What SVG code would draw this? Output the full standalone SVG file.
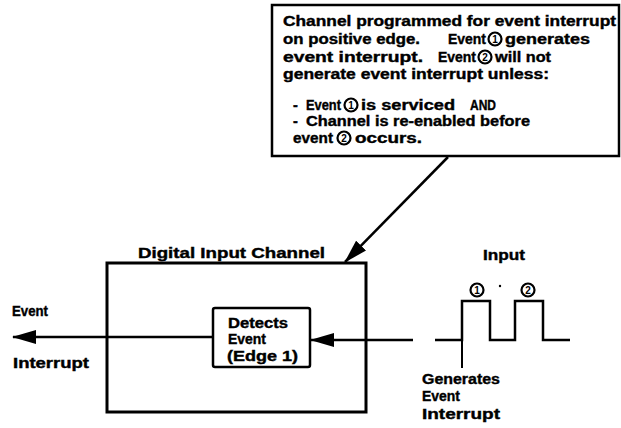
<svg xmlns="http://www.w3.org/2000/svg" width="621" height="428" viewBox="0 0 621 428">
<style>
  .t { font-family: "Liberation Sans", Arial, sans-serif; font-weight: bold; font-size: 14.5px; fill: #000; stroke: #000; stroke-width: 0.4; }
  .n { font-family: "Liberation Sans", Arial, sans-serif; font-weight: bold; font-size: 10px; fill: #000; text-anchor: middle; }
  .box { fill: #fff; stroke: #000; stroke-width: 2.5; }
  .ln { fill: none; stroke: #000; stroke-width: 2.5; }
  .circ { fill: #fff; stroke: #000; stroke-width: 2.2; }
</style>
<defs>
  <marker id="ahBig" viewBox="0 0 24 14" refX="23" refY="7" markerWidth="24" markerHeight="14" orient="auto" markerUnits="userSpaceOnUse">
    <path d="M0,0 L24,7 L0,14 Z" fill="#000"/>
  </marker>
</defs>

<g id="note">
  <rect class="box" x="272" y="5" width="347" height="151"/>
  <text class="t" x="283" y="26" textLength="333" lengthAdjust="spacingAndGlyphs">Channel programmed for event interrupt</text>
  <text class="t" x="283" y="44" textLength="137" lengthAdjust="spacingAndGlyphs">on positive edge.</text>
  <text class="t" x="448" y="44" textLength="38" lengthAdjust="spacingAndGlyphs">Event</text>
  <circle class="circ" cx="495" cy="39" r="6.5"/><text class="n" x="495" y="42.5">1</text>
  <text class="t" x="505" y="44" textLength="85" lengthAdjust="spacingAndGlyphs">generates</text>
  <text class="t" x="283" y="62" textLength="140" lengthAdjust="spacingAndGlyphs">event interrupt.</text>
  <text class="t" x="438" y="62" textLength="38" lengthAdjust="spacingAndGlyphs">Event</text>
  <circle class="circ" cx="485" cy="57" r="6.5"/><text class="n" x="485" y="60.5">2</text>
  <text class="t" x="495" y="62" textLength="56" lengthAdjust="spacingAndGlyphs">will not</text>
  <text class="t" x="283" y="79" textLength="266" lengthAdjust="spacingAndGlyphs">generate event interrupt unless:</text>
  <text class="t" x="293" y="110">-</text>
  <text class="t" x="306" y="110" textLength="35" lengthAdjust="spacingAndGlyphs">Event</text>
  <circle class="circ" cx="351" cy="105" r="6.5"/><text class="n" x="351" y="108.5">1</text>
  <text class="t" x="361" y="110" textLength="94" lengthAdjust="spacingAndGlyphs">is serviced</text>
  <text class="t" x="470" y="110" textLength="26" lengthAdjust="spacingAndGlyphs">AND</text>
  <text class="t" x="293" y="126">-</text>
  <text class="t" x="306" y="126" textLength="224" lengthAdjust="spacingAndGlyphs">Channel is re-enabled before</text>
  <text class="t" x="293" y="143" textLength="40" lengthAdjust="spacingAndGlyphs">event</text>
  <circle class="circ" cx="344" cy="138" r="6.5"/><text class="n" x="344" y="141.5">2</text>
  <text class="t" x="355" y="143" textLength="67" lengthAdjust="spacingAndGlyphs">occurs.</text>
</g>

<g id="channel">
  <text class="t" x="138" y="258" textLength="187" lengthAdjust="spacingAndGlyphs">Digital Input Channel</text>
  <rect x="107" y="263" width="259" height="149" fill="#fff" stroke="#000" stroke-width="3"/>
</g>

<g id="detector">
  <rect class="box" x="213" y="308" width="97" height="59" rx="2"/>
  <text class="t" x="228" y="328" textLength="60" lengthAdjust="spacingAndGlyphs">Detects</text>
  <text class="t" x="228" y="344" textLength="38" lengthAdjust="spacingAndGlyphs">Event</text>
  <text class="t" x="227" y="361" textLength="71" lengthAdjust="spacingAndGlyphs">(Edge 1)</text>
</g>

<g id="output-label">
  <text class="t" x="12" y="316" textLength="36" lengthAdjust="spacingAndGlyphs">Event</text>
  <text class="t" x="13" y="368" textLength="76" lengthAdjust="spacingAndGlyphs">Interrupt</text>
</g>

<g id="input-signal">
  <text class="t" x="483" y="260" textLength="42" lengthAdjust="spacingAndGlyphs">Input</text>
  <circle class="circ" cx="477" cy="290" r="6.5"/><text class="n" x="477" y="293.5">1</text>
  <circle cx="500" cy="286" r="1.2" fill="#000"/>
  <circle class="circ" cx="528" cy="290" r="6.5"/><text class="n" x="528" y="293.5">2</text>
  <polyline class="ln" points="435,340 462,340 462,301 490,301 490,340 515,340 515,301 543,301 543,340 570,340"/>
  <line x1="462" y1="340" x2="462" y2="368" stroke="#000" stroke-width="2"/>
  <text class="t" x="422" y="384" textLength="78" lengthAdjust="spacingAndGlyphs">Generates</text>
  <text class="t" x="422" y="401" textLength="38" lengthAdjust="spacingAndGlyphs">Event</text>
  <text class="t" x="422" y="419" textLength="78" lengthAdjust="spacingAndGlyphs">Interrupt</text>
</g>

<g id="connectors">
  <line class="ln" x1="448" y1="157" x2="345" y2="262" marker-end="url(#ahBig)"/>
  <line class="ln" x1="213" y1="337" x2="13" y2="337" marker-end="url(#ahBig)"/>
  <line class="ln" x1="413" y1="340" x2="311" y2="340" marker-end="url(#ahBig)"/>
</g>
</svg>
